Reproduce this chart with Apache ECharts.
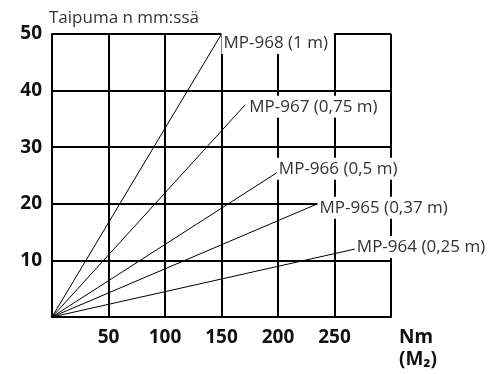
<!DOCTYPE html>
<html>
<head>
<meta charset="utf-8">
<script src="https://cdn.jsdelivr.net/npm/echarts@6/dist/echarts.min.js"></script>
<style>html,body{margin:0;padding:0;background:#fff}#c{width:500px;height:374px}</style>
</head>
<body>
<div id="c"></div>
<script>
const seriesNames = ['MP-968 (1 m)', 'MP-967 (0,75 m)', 'MP-966 (0,5 m)', 'MP-965 (0,37 m)', 'MP-964 (0,25 m)'];
const endTorque = [150, 171, 199, 235, 268];     // Nm at line end
const endDeflection = [50, 37.5, 25.5, 20, 12];  // mm at line end
const xTicks = [0, 50, 100, 150, 200, 250, 300];
const yTicks = [0, 10, 20, 30, 40, 50];
const yTitle = 'Taipuma n mm:ssä';
const xTitle = 'Nm\n(M₂)';

const labelOffsets = [[0, 9], [2, 2], [0, -4], [0, 4], [0, -2]];

const chart = echarts.init(document.getElementById('c'), null, {renderer: 'canvas'});
chart.setOption({
  animation: false,
  backgroundColor: '#fff',
  grid: {left: 52, right: 109, top: 34, bottom: 57, containLabel: false},
  xAxis: {
    type: 'value', min: xTicks[0], max: xTicks[xTicks.length - 1], interval: 50,
    axisLine: {show: true, lineStyle: {color: '#000', width: 2}},
    axisTick: {show: false},
    splitLine: {show: true, lineStyle: {color: '#000', width: 2}},
    axisLabel: {
      margin: 11, fontFamily: 'Noto Sans', fontWeight: 'bold', fontSize: 19, color: '#111',
      formatter: v => (v === 0 || v === 300) ? '' : String(v)
    },
    name: xTitle, nameLocation: 'end', nameGap: 8,
    nameTextStyle: {fontFamily: 'Noto Sans', fontWeight: 'bold', fontSize: 19, color: '#111',
      align: 'left', verticalAlign: 'top', lineHeight: 22, padding: [10, 0, 0, 0]}
  },
  yAxis: {
    type: 'value', min: yTicks[0], max: yTicks[yTicks.length - 1], interval: 10,
    axisLine: {show: true, lineStyle: {color: '#000', width: 2}},
    axisTick: {show: false},
    splitLine: {show: true, lineStyle: {color: '#000', width: 2}},
    axisLabel: {
      margin: 10, fontFamily: 'Noto Sans', fontWeight: 'bold', fontSize: 19, color: '#111',
      formatter: v => v === 0 ? '' : String(v)
    },
    name: yTitle, nameLocation: 'end', nameGap: 7,
    nameTextStyle: {fontFamily: 'Open Sans', fontSize: 17, color: '#333', align: 'left', padding: [0, 0, 0, -3]}
  },
  series: seriesNames.map((n, i) => ({
    type: 'line', name: n,
    data: [[0, 0], [endTorque[i], endDeflection[i]]],
    showSymbol: false, symbol: 'none',
    lineStyle: {color: '#000', width: 1},
    z: 3 + i,
    endLabel: {
      show: true, formatter: n, distance: 0,
      offset: labelOffsets[i],
      fontFamily: 'Open Sans', fontSize: 17, color: '#333',
      backgroundColor: '#fff', padding: [3, 6, 2, 2]
    }
  }))
});
</script>
</body>
</html>
